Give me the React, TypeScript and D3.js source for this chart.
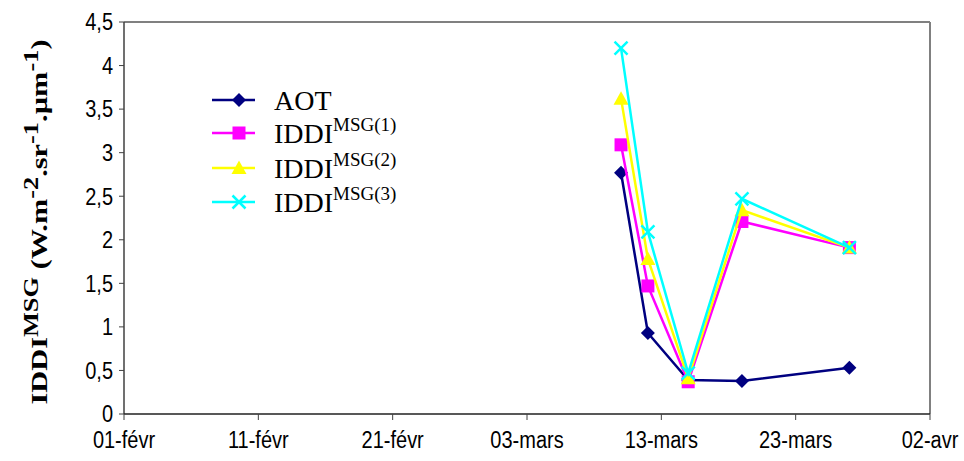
import React from "react";
import * as d3 from "d3";

const dates = ["2005-03-10", "2005-03-12", "2005-03-15", "2005-03-19", "2005-03-27"];
const aot = [2.77, 0.93, 0.39, 0.38, 0.53];
const iddi1 = [3.09, 1.47, 0.37, 2.21, 1.91];
const iddi2 = [3.62, 1.78, 0.41, 2.34, 1.91];
const iddi3 = [4.2, 2.09, 0.47, 2.47, 1.91];
const xTickDates = ["2005-02-01", "2005-02-11", "2005-02-21", "2005-03-03", "2005-03-13", "2005-03-23", "2005-04-02"];
const xTickLabels = ["01-févr", "11-févr", "21-févr", "03-mars", "13-mars", "23-mars", "02-avr"];
const yTicks = [0, 0.5, 1, 1.5, 2, 2.5, 3, 3.5, 4, 4.5];

const series = [
  { name: "AOT", sup: "", values: aot, color: "#000080", marker: "diamond" },
  { name: "IDDI", sup: "MSG(1)", values: iddi1, color: "#FF00FF", marker: "square" },
  { name: "IDDI", sup: "MSG(2)", values: iddi2, color: "#FFFF00", marker: "triangle" },
  { name: "IDDI", sup: "MSG(3)", values: iddi3, color: "#00FFFF", marker: "x" },
];

const W = 964, H = 461;
const L = 124, R = 930, T = 22, B = 414;

function Marker({ type, x, y, color }: { type: string; x: number; y: number; color: string }) {
  if (type === "diamond") {
    const s = 7;
    return <path d={`M${x},${y - s}L${x + s},${y}L${x},${y + s}L${x - s},${y}Z`} fill={color} />;
  }
  if (type === "square") {
    const s = 6.5;
    return <rect x={x - s} y={y - s} width={2 * s} height={2 * s} fill={color} />;
  }
  if (type === "triangle") {
    const s = 7.5;
    return <path d={`M${x},${y - s}L${x + s},${y + s * 0.8}L${x - s},${y + s * 0.8}Z`} fill={color} />;
  }
  const s = 6.5;
  return (
    <path d={`M${x - s},${y - s}L${x + s},${y + s}M${x - s},${y + s}L${x + s},${y - s}`} stroke={color} strokeWidth={2.5} fill="none" />
  );
}

export default function App() {
  const parse = (s: string) => new Date(s + "T00:00:00Z");
  const x = d3.scaleUtc().domain([parse(xTickDates[0]), parse(xTickDates[xTickDates.length - 1])]).range([L, R]);
  const y = d3.scaleLinear().domain([0, 4.5]).range([B, T]);
  const line = d3.line<number>().x((_, i) => x(parse(dates[i]))).y((v) => y(v));
  const legendY = [100, 133, 168, 202];

  return (
    <svg width={W} height={H} style={{ position: "absolute", left: 0, top: 0, background: "#fff" }}>
      <rect x={0} y={0} width={W} height={H} fill="#fff" />
      {/* frame */}
      <line x1={L} y1={T} x2={R} y2={T} stroke="#808080" strokeWidth={2} />
      <line x1={R} y1={T} x2={R} y2={B} stroke="#808080" strokeWidth={2} />
      <line x1={L} y1={T} x2={L} y2={B} stroke="#404040" strokeWidth={1.5} />
      <line x1={L} y1={B} x2={R} y2={B} stroke="#202020" strokeWidth={1.5} />
      {yTicks.map((t) => (
        <g key={t}>
          <line x1={L - 5} x2={L} y1={y(t)} y2={y(t)} stroke="#404040" strokeWidth={1} />
          <g transform={`translate(${L - 11},${y(t)}) scale(1,1.15)`}>
            <text dy="0.36em" textAnchor="end" fontFamily="Liberation Sans, Arial" fontSize={20} fill="#000">
              {String(t).replace(".", ",")}
            </text>
          </g>
        </g>
      ))}
      {xTickDates.map((d, i) => (
        <g key={d}>
          <line x1={x(parse(d))} x2={x(parse(d))} y1={B} y2={B + 6} stroke="#404040" strokeWidth={1} />
          <g transform={`translate(${x(parse(d))},448) scale(1,1.15)`}>
            <text textAnchor="middle" fontFamily="Liberation Sans, Arial" fontSize={20} fill="#000">
              {xTickLabels[i]}
            </text>
          </g>
        </g>
      ))}
      {/* y label */}
      <g transform={`translate(47,${(T + B) / 2 + 4}) rotate(-90) scale(1.32,1)`}>
        <text textAnchor="middle" fontFamily="Liberation Serif, Times New Roman" fontWeight="bold" fontSize={23} fill="#000">
          IDDI<tspan fontSize={20} dy={-9}>MSG</tspan>
          <tspan dy={9}> (W.m</tspan>
          <tspan fontSize={20} dy={-9}>-2</tspan>
          <tspan dy={9}>.sr</tspan>
          <tspan fontSize={20} dy={-9}>-1</tspan>
          <tspan dy={9}>.µm</tspan>
          <tspan fontSize={20} dy={-9}>-1</tspan>
          <tspan dy={9}>)</tspan>
        </text>
      </g>
      {/* series */}
      {series.map((s) => (
        <g key={s.sup || s.name}>
          <path d={line(s.values) || ""} fill="none" stroke={s.color} strokeWidth={2.5} />
          {s.values.map((v, i) => (
            <Marker key={i} type={s.marker} x={x(parse(dates[i]))} y={y(v)} color={s.color} />
          ))}
        </g>
      ))}
      {/* legend */}
      {series.map((s, i) => (
        <g key={"lg" + i}>
          <line x1={212} x2={255} y1={legendY[i]} y2={legendY[i]} stroke={s.color} strokeWidth={2.5} />
          <Marker type={s.marker} x={239} y={legendY[i]} color={s.color} />
          <text x={274} y={legendY[i] + 10} fontFamily="Liberation Serif, Times New Roman" fontSize={28} fill="#000">
            {s.name}
            {s.sup && (
              <tspan fontSize={19} dy={-12}>
                {s.sup}
              </tspan>
            )}
          </text>
        </g>
      ))}
    </svg>
  );
}
